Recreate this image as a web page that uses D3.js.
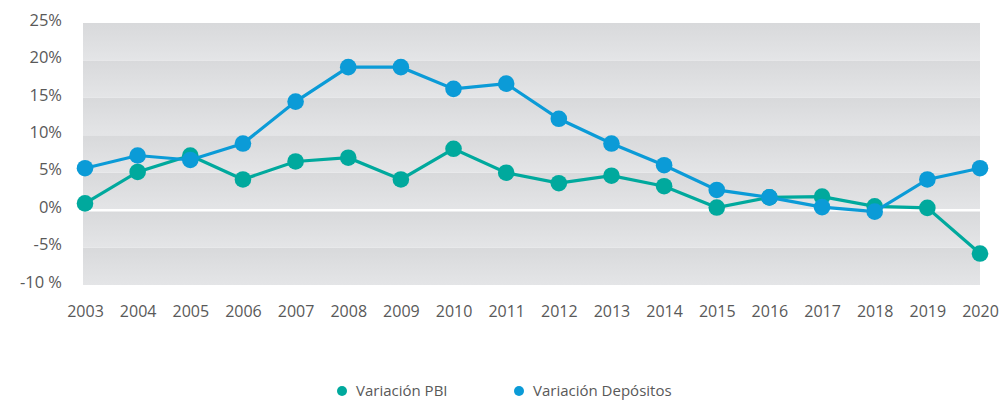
<!DOCTYPE html>
<html>
<head>
<meta charset="utf-8">
<script src="https://cdn.jsdelivr.net/npm/d3@7"></script>
<style>
  body { margin: 0; background: #fff; }
  text { font-family: "Open Sans", "Noto Sans", sans-serif; fill: #595959; }
</style>
</head>
<body>
<div id="chart"></div>
<script>
var years = [2003, 2004, 2005, 2006, 2007, 2008, 2009, 2010, 2011, 2012, 2013, 2014, 2015, 2016, 2017, 2018, 2019, 2020];
var pbi = [0.9, 5.1, 7.3, 4.1, 6.5, 7.0, 4.1, 8.2, 5.0, 3.6, 4.6, 3.2, 0.35, 1.7, 1.8, 0.5, 0.3, -5.8];
var depositos = [5.6, 7.3, 6.7, 8.9, 14.5, 19.1, 19.1, 16.2, 16.9, 12.2, 8.9, 6.0, 2.7, 1.7, 0.4, -0.2, 4.1, 5.6];
var yTicks = [-10, -5, 0, 5, 10, 15, 20, 25];
var seriesNames = ['Variación PBI', 'Variación Depósitos'];
var seriesColors = ['#00a99d', '#0b9bd7'];

var width = 1000, height = 403;
var plotLeft = 83, plotRight = 980, plotTop = 23, plotBottom = 285;

var svg = d3.select('#chart').append('svg')
  .attr('width', width)
  .attr('height', height);

var x = d3.scalePoint()
  .domain(years)
  .range([85, 980]);

var y = d3.scaleLinear()
  .domain([-10, 25])
  .range([plotBottom, plotTop]);

var defs = svg.append('defs');
var grad = defs.append('linearGradient')
  .attr('id', 'band')
  .attr('x1', 0).attr('y1', 0).attr('x2', 0).attr('y2', 1);
grad.append('stop').attr('offset', '0%').attr('stop-color', '#d8d9db');
grad.append('stop').attr('offset', '100%').attr('stop-color', '#e4e5e7');

// background bands between ticks
svg.append('g')
  .selectAll('rect')
  .data(yTicks.slice(1))
  .enter().append('rect')
  .attr('x', plotLeft)
  .attr('y', function(d) { return y(d); })
  .attr('width', plotRight - plotLeft)
  .attr('height', function(d) { return y(d - 5) - y(d); })
  .attr('fill', 'url(#band)');

// zero line
svg.append('line')
  .attr('x1', plotLeft).attr('x2', plotRight)
  .attr('y1', y(0)).attr('y2', y(0))
  .attr('stroke', '#fff')
  .attr('stroke-width', 2.5);

// y axis labels
var yAxis = d3.axisLeft(y)
  .tickValues(yTicks)
  .tickSize(0)
  .tickPadding(0)
  .tickFormat(function(d) { return d == -10 ? '-10 %' : d + '%'; });
var gy = svg.append('g')
  .attr('transform', 'translate(62,-3)')
  .call(yAxis);
gy.select('.domain').remove();
gy.selectAll('text')
  .style('font-size', '16.5px')
  .attr('fill', '#595959');

// x axis labels
var xAxis = d3.axisBottom(x).tickSize(0).tickPadding(0);
var gx = svg.append('g')
  .attr('transform', 'translate(0,306)')
  .call(xAxis);
gx.select('.domain').remove();
gx.selectAll('text')
  .style('font-size', '16px')
  .attr('fill', '#595959');

var line = d3.line()
  .x(function(d, i) { return x(years[i]); })
  .y(function(d) { return y(d); });

[pbi, depositos].forEach(function(series, k) {
  var g = svg.append('g');
  g.append('path')
    .datum(series)
    .attr('fill', 'none')
    .attr('stroke', seriesColors[k])
    .attr('stroke-width', 3.2)
    .attr('d', line);
  g.selectAll('circle')
    .data(series)
    .enter().append('circle')
    .attr('cx', function(d, i) { return x(years[i]); })
    .attr('cy', function(d) { return y(d); })
    .attr('r', 8.3)
    .attr('fill', seriesColors[k]);
});

// legend
var legendX = [342, 519];
var legend = svg.append('g');
seriesNames.forEach(function(name, k) {
  legend.append('circle')
    .attr('cx', legendX[k])
    .attr('cy', 391)
    .attr('r', 5)
    .attr('fill', seriesColors[k]);
  legend.append('text')
    .attr('x', legendX[k] + 14)
    .attr('y', 391)
    .attr('dy', '0.35em')
    .style('font-size', '15px')
    .text(name);
});
</script>
</body>
</html>
